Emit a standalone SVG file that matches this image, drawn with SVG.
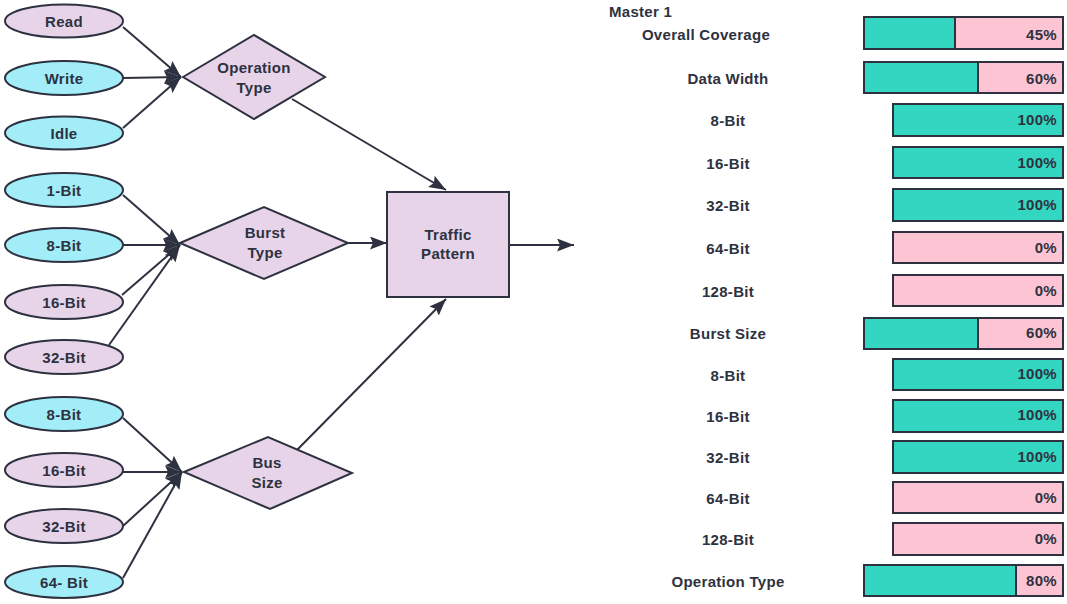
<svg xmlns="http://www.w3.org/2000/svg" width="1067" height="604" viewBox="0 0 1067 604">
<style>
text{font-family:"Liberation Sans",Arial,sans-serif;font-size:15px;font-weight:bold;fill:#2e3240;letter-spacing:0.3px}
.c{text-anchor:middle}
.r{text-anchor:end}
.lav{fill:#e7d4e9;stroke:#2e3240;stroke-width:2}
.cy{fill:#a3edf9;stroke:#2e3240;stroke-width:2}
.conn line{stroke:#2e3240;stroke-width:2;marker-end:url(#ah)}
.bar{stroke:#2e3240;stroke-width:2}
.g{fill:#33d6c0}
.p{fill:#fdc5d4}
</style>
<defs>
<marker id="ah" markerUnits="userSpaceOnUse" markerWidth="20" markerHeight="16" refX="17" refY="6.5" orient="auto">
<path d="M0,0 L17,6.5 L0,13 L3,6.5 z" fill="#2e3240"/>
</marker>
</defs>
<rect width="1067" height="604" fill="#ffffff"/>

<g class="conn">
<line x1="123" y1="27" x2="181" y2="77"/>
<line x1="123" y1="78" x2="181" y2="77"/>
<line x1="123" y1="128" x2="181" y2="77"/>
<line x1="292" y1="99" x2="446" y2="190"/>
<line x1="123" y1="195" x2="180" y2="245"/>
<line x1="123" y1="245" x2="180" y2="245"/>
<line x1="122" y1="295" x2="180" y2="245"/>
<line x1="109" y1="345" x2="180" y2="245"/>
<line x1="348" y1="243" x2="387" y2="243"/>
<line x1="123" y1="418" x2="182" y2="472"/>
<line x1="123" y1="472" x2="182" y2="472"/>
<line x1="123" y1="526" x2="182" y2="472"/>
<line x1="123" y1="578" x2="182" y2="472"/>
<line x1="297" y1="450" x2="446" y2="299"/>
<line x1="509" y1="245" x2="574" y2="245"/>
</g>

<g id="n-read"><ellipse class="lav" cx="64" cy="21" rx="59" ry="16.5"/><text class="c" x="64" y="26.5">Read</text></g>
<g id="n-write"><ellipse class="cy" cx="64" cy="78" rx="59" ry="17"/><text class="c" x="64" y="83.5">Write</text></g>
<g id="n-idle"><ellipse class="cy" cx="64" cy="133" rx="59" ry="16.5"/><text class="c" x="64" y="138.5">Idle</text></g>
<g id="n-optype"><polygon class="lav" points="183,77 254,35 325,77 254,119"/><text class="c" x="254" y="73">Operation</text><text class="c" x="254" y="93">Type</text></g>

<g id="n-b1"><ellipse class="cy" cx="64" cy="190" rx="59" ry="17"/><text class="c" x="64" y="195.5">1-Bit</text></g>
<g id="n-b8"><ellipse class="cy" cx="64" cy="245" rx="59" ry="17"/><text class="c" x="64" y="250.5">8-Bit</text></g>
<g id="n-b16"><ellipse class="lav" cx="64" cy="302" rx="59" ry="17"/><text class="c" x="64" y="307.5">16-Bit</text></g>
<g id="n-b32"><ellipse class="lav" cx="64" cy="357" rx="59" ry="17"/><text class="c" x="64" y="362.5">32-Bit</text></g>
<g id="n-burst"><polygon class="lav" points="180,243 264,207 348,243 264,279"/><text class="c" x="265" y="238">Burst</text><text class="c" x="265" y="258">Type</text></g>

<g id="n-s8"><ellipse class="cy" cx="64" cy="414" rx="59" ry="17"/><text class="c" x="64" y="419.5">8-Bit</text></g>
<g id="n-s16"><ellipse class="lav" cx="64" cy="470" rx="59" ry="17"/><text class="c" x="64" y="475.5">16-Bit</text></g>
<g id="n-s32"><ellipse class="lav" cx="64" cy="526" rx="59" ry="17"/><text class="c" x="64" y="531.5">32-Bit</text></g>
<g id="n-s64"><ellipse class="cy" cx="64" cy="582" rx="59" ry="16"/><text class="c" x="64" y="587.5">64- Bit</text></g>
<g id="n-bus"><polygon class="lav" points="184,472 268,437 352,473 270,509"/><text class="c" x="267" y="468">Bus</text><text class="c" x="267" y="488">Size</text></g>

<g id="n-traffic"><rect class="lav" x="387" y="192" width="122" height="105"/><text class="c" x="448" y="240">Traffic</text><text class="c" x="448" y="259">Pattern</text></g>

<g id="coverage">
<text x="609" y="17">Master 1</text>

<g id="row-overall"><text class="c" x="706" y="40">Overall Coverage</text>
<rect class="bar p" x="864" y="17" width="199" height="32"/><rect class="bar g" x="864" y="17" width="91" height="32"/><text class="r" x="1057" y="40">45%</text></g>

<g id="row-dw"><text class="c" x="728" y="84">Data Width</text>
<rect class="bar p" x="864" y="62" width="199" height="31"/><rect class="bar g" x="864" y="62" width="114" height="31"/><text class="r" x="1057" y="84">60%</text></g>

<g id="row-dw8"><text class="c" x="728" y="126">8-Bit</text>
<rect class="bar g" x="893" y="104" width="170" height="32"/><text class="r" x="1057" y="125">100%</text></g>
<g id="row-dw16"><text class="c" x="728" y="169">16-Bit</text>
<rect class="bar g" x="893" y="147" width="170" height="31"/><text class="r" x="1057" y="168">100%</text></g>
<g id="row-dw32"><text class="c" x="728" y="211">32-Bit</text>
<rect class="bar g" x="893" y="189" width="170" height="32"/><text class="r" x="1057" y="210">100%</text></g>
<g id="row-dw64"><text class="c" x="728" y="254">64-Bit</text>
<rect class="bar p" x="893" y="232" width="170" height="31"/><text class="r" x="1057" y="253">0%</text></g>
<g id="row-dw128"><text class="c" x="728" y="297">128-Bit</text>
<rect class="bar p" x="893" y="275" width="170" height="31"/><text class="r" x="1057" y="296">0%</text></g>

<g id="row-bs"><text class="c" x="728" y="339">Burst Size</text>
<rect class="bar p" x="864" y="318" width="199" height="31"/><rect class="bar g" x="864" y="318" width="114" height="31"/><text class="r" x="1057" y="338">60%</text></g>

<g id="row-bs8"><text class="c" x="728" y="381">8-Bit</text>
<rect class="bar g" x="893" y="359" width="170" height="31"/><text class="r" x="1057" y="379">100%</text></g>
<g id="row-bs16"><text class="c" x="728" y="422">16-Bit</text>
<rect class="bar g" x="893" y="400" width="170" height="32"/><text class="r" x="1057" y="420">100%</text></g>
<g id="row-bs32"><text class="c" x="728" y="463">32-Bit</text>
<rect class="bar g" x="893" y="441" width="170" height="32"/><text class="r" x="1057" y="462">100%</text></g>
<g id="row-bs64"><text class="c" x="728" y="504">64-Bit</text>
<rect class="bar p" x="893" y="482" width="170" height="31"/><text class="r" x="1057" y="503">0%</text></g>
<g id="row-bs128"><text class="c" x="728" y="545">128-Bit</text>
<rect class="bar p" x="893" y="523" width="170" height="32"/><text class="r" x="1057" y="544">0%</text></g>

<g id="row-op"><text class="c" x="728" y="587">Operation Type</text>
<rect class="bar p" x="864" y="565" width="199" height="31"/><rect class="bar g" x="864" y="565" width="152" height="31"/><text class="r" x="1057" y="586">80%</text></g>
</g>
</svg>
